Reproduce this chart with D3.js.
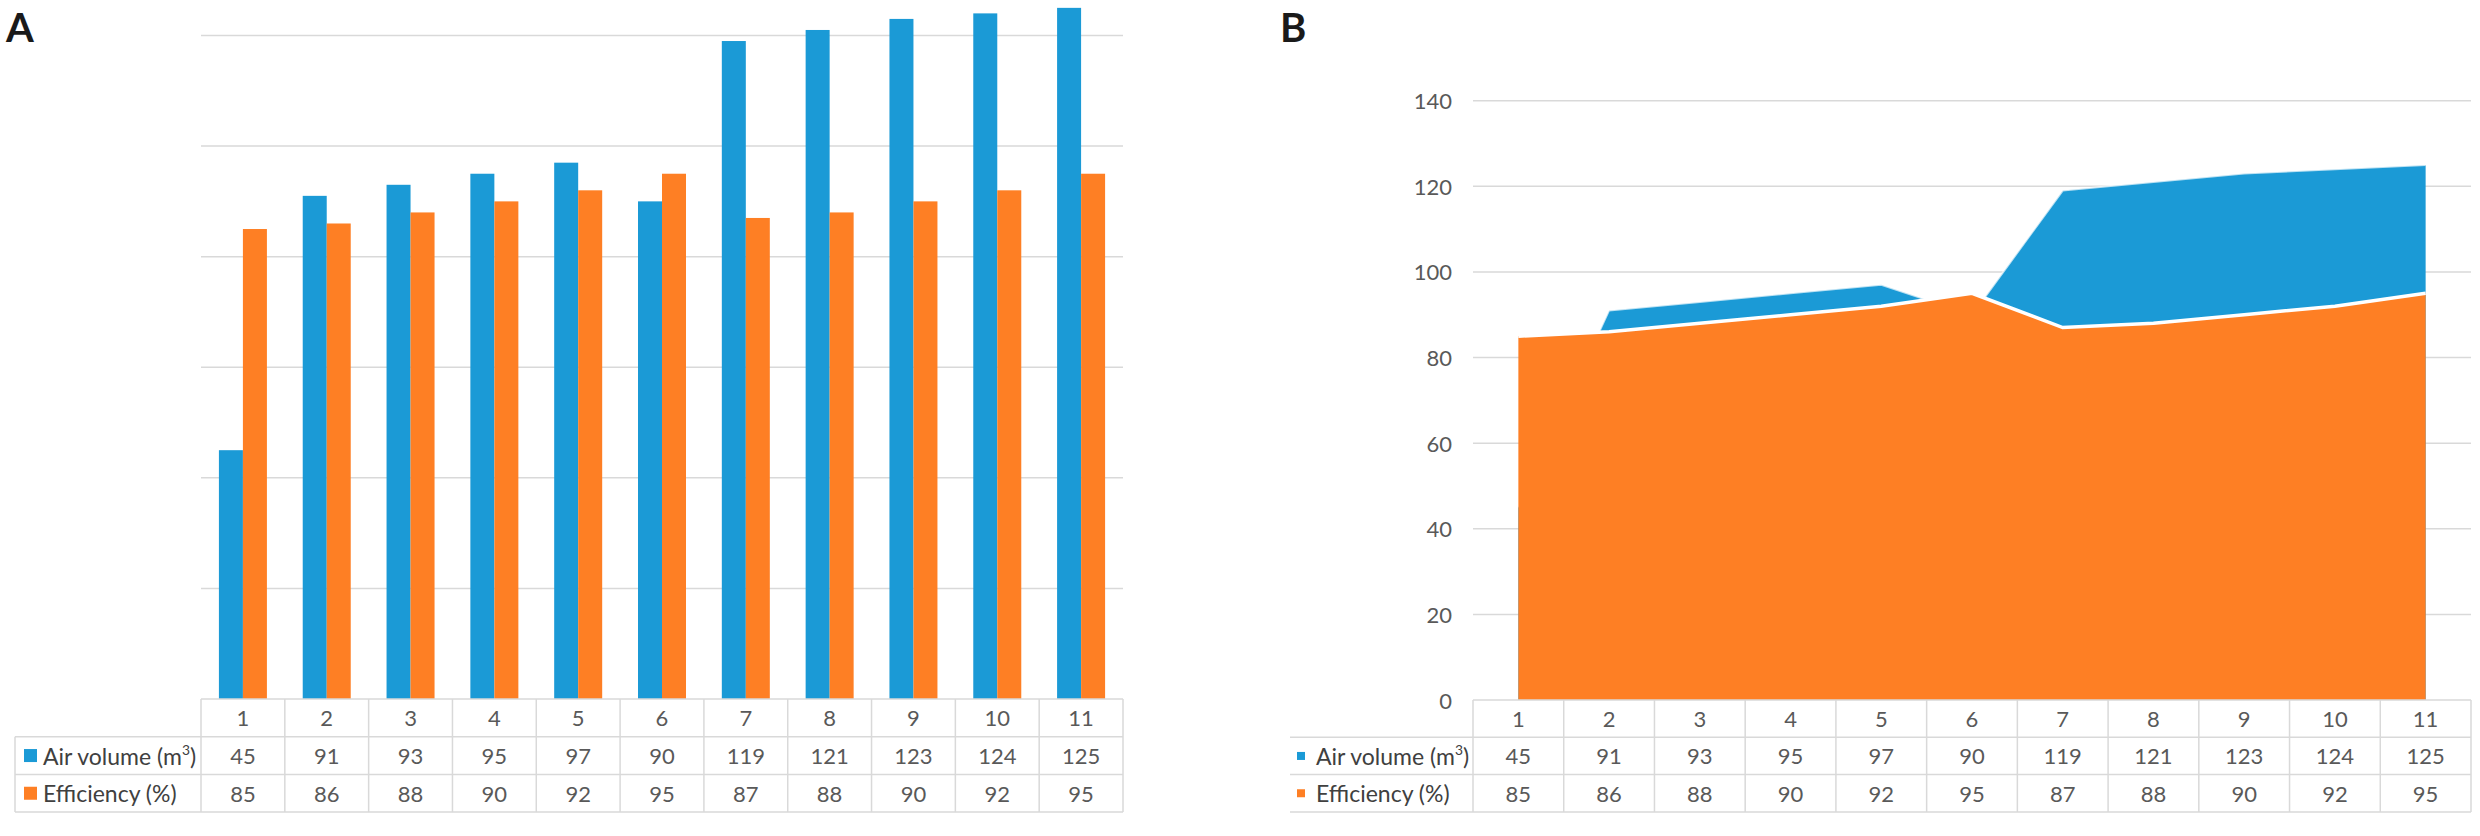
<!DOCTYPE html>
<html>
<head>
<meta charset="utf-8">
<script src="https://cdn.jsdelivr.net/npm/d3@7/dist/d3.min.js"></script>
<style>
  html, body { margin: 0; padding: 0; background: #fff; }
  svg { display: block; }
  text { font-family: Lato, "Open Sans", sans-serif; }
</style>
</head>
<body>
<svg id="chart" width="2480" height="836"></svg>
<script>
// ---- data ----
const categories = ["1", "2", "3", "4", "5", "6", "7", "8", "9", "10", "11"];
const airVolume  = [45, 91, 93, 95, 97, 90, 119, 121, 123, 124, 125];
const efficiency = [85, 86, 88, 90, 92, 95, 87, 88, 90, 92, 95];
const seriesNames = ["Air volume (m", "Efficiency (%)"];
const seriesKeys = ["air", "eff"];
const gridTicksA = [20, 40, 60, 80, 100, 120];
const yTicksB = [0, 20, 40, 60, 80, 100, 120, 140];

const colors = { air: "#1b9ad6", eff: "#fe7f24" };
const gridColor = "#d9d9d9";
const textColor = "#595959";

const rows = categories.map((c, i) => ({ cat: c, air: airVolume[i], eff: efficiency[i] }));

const svg = d3.select("#chart");

// ---- panel labels ----
svg.append("text").attr("x", 6).attr("y", 42).text("A")
  .attr("font-family", "Liberation Sans, Arial, sans-serif")
  .attr("font-weight", "bold").attr("font-size", 40).attr("fill", "#1a1a1a");
svg.append("text").attr("x", 1280).attr("y", 42).text("B")
  .attr("font-family", "Liberation Sans, Arial, sans-serif")
  .attr("font-weight", "bold").attr("font-size", 40).attr("fill", "#1a1a1a");

// ---- data table helper ----
function drawTable(g, x, opts) {
  const top = opts.top, rh = opts.rowH;
  const x0 = x.range()[0], x1 = x.range()[1];
  const bw = x.bandwidth();
  const lines = g.append("g").attr("stroke", gridColor).attr("stroke-width", 1.5);
  lines.append("line").attr("x1", x0).attr("x2", x1).attr("y1", top).attr("y2", top);
  [1, 2, 3].forEach(k => {
    lines.append("line").attr("x1", opts.legendLeft).attr("x2", x1)
      .attr("y1", top + k * rh).attr("y2", top + k * rh);
  });
  categories.forEach(c => {
    lines.append("line").attr("x1", x(c)).attr("x2", x(c)).attr("y1", top).attr("y2", top + 3 * rh);
  });
  lines.append("line").attr("x1", x1).attr("x2", x1).attr("y1", top).attr("y2", top + 3 * rh);
  if (opts.legendBorder) {
    lines.append("line").attr("x1", opts.legendLeft).attr("x2", opts.legendLeft)
      .attr("y1", top + rh).attr("y2", top + 3 * rh);
  }
  g.selectAll("text.cat").data(categories).join("text")
    .attr("x", c => x(c) + bw / 2).attr("y", top + rh / 2)
    .attr("text-anchor", "middle").attr("dominant-baseline", "central")
    .attr("font-size", opts.fontSize).attr("fill", textColor).text(c => c);
  seriesKeys.forEach((key, si) => {
    const ry = top + (si + 1.5) * rh;
    g.selectAll("text.v" + key).data(rows).join("text")
      .attr("x", d => x(d.cat) + bw / 2).attr("y", ry)
      .attr("text-anchor", "middle").attr("dominant-baseline", "central")
      .attr("font-size", opts.fontSize).attr("fill", textColor).text(d => d[key]);
    g.append("rect")
      .attr("x", opts.markerX).attr("y", ry - opts.markerSize / 2)
      .attr("width", opts.markerSize).attr("height", opts.markerSize)
      .attr("fill", colors[key]);
    const t = g.append("text").attr("x", opts.labelX).attr("y", ry)
      .attr("dominant-baseline", "central").attr("font-size", opts.labelSize)
      .attr("fill", "#404040");
    t.append("tspan").text(seriesNames[si]);
    if (key === "air") {
      t.append("tspan").attr("font-size", opts.labelSize * 0.6).attr("dy", -7).text("3");
      t.append("tspan").attr("dy", 7).text(")");
    }
  });
}

// ================= Panel A: clustered bars =================
const gA = svg.append("g");
const xA = d3.scaleBand().domain(categories).range([201, 1123]).padding(0);
const yA = d3.scaleLinear().domain([0, 120]).range([699, 35.5]);
const barW = 24;
const xA1 = d3.scaleBand().domain(seriesKeys)
  .range([xA.bandwidth() / 2 - barW, xA.bandwidth() / 2 + barW]).padding(0);

gA.append("g").selectAll("line").data(gridTicksA).join("line")
  .attr("x1", xA.range()[0]).attr("x2", xA.range()[1])
  .attr("y1", d => yA(d)).attr("y2", d => yA(d))
  .attr("stroke", gridColor).attr("stroke-width", 1.5);

const groups = gA.append("g").selectAll("g").data(rows).join("g")
  .attr("transform", d => `translate(${xA(d.cat)},0)`);
groups.selectAll("rect").data(d => seriesKeys.map(k => ({ key: k, value: d[k] }))).join("rect")
  .attr("x", d => xA1(d.key)).attr("width", xA1.bandwidth())
  .attr("y", d => yA(d.value)).attr("height", d => yA(0) - yA(d.value))
  .attr("fill", d => colors[d.key]);

drawTable(gA.append("g"), xA, {
  top: 699, rowH: 37.7, legendLeft: 15, legendBorder: true,
  markerX: 24, markerSize: 13, labelX: 43, fontSize: 22, labelSize: 23
});

// ================= Panel B: overlapping areas =================
const gB = svg.append("g");
const xB = d3.scaleBand().domain(categories).range([1473, 2471]).padding(0);
const yB = d3.scaleLinear().domain([0, 140]).range([700, 100.7]);
const cx = c => xB(c) + xB.bandwidth() / 2;

gB.append("g").selectAll("line").data(yTicksB.filter(v => v > 0)).join("line")
  .attr("x1", xB.range()[0]).attr("x2", xB.range()[1])
  .attr("y1", d => yB(d)).attr("y2", d => yB(d))
  .attr("stroke", gridColor).attr("stroke-width", 1.5);

gB.append("g").selectAll("text").data(yTicksB).join("text")
  .attr("x", 1452).attr("y", d => yB(d))
  .attr("text-anchor", "end").attr("dominant-baseline", "central")
  .attr("font-size", 22).attr("fill", textColor).text(d => d);

const areaAir = d3.area().x(d => cx(d.cat)).y0(yB(0)).y1(d => yB(d.air));
const areaEff = d3.area().x(d => cx(d.cat)).y0(yB(0)).y1(d => yB(d.eff));
const lineAir = d3.line().x(d => cx(d.cat)).y(d => yB(d.air));
const lineEff = d3.line().x(d => cx(d.cat)).y(d => yB(d.eff));

gB.append("path").datum(rows).attr("d", areaAir).attr("fill", colors.air);
gB.append("path").datum(rows).attr("d", lineAir).attr("fill", "none")
  .attr("stroke", "#ffffff").attr("stroke-width", 2).attr("stroke-opacity", 0.7);
gB.append("path").datum(rows).attr("d", areaEff).attr("fill", colors.eff);
gB.append("path").datum(rows).attr("d", lineEff).attr("fill", "none")
  .attr("stroke", "#ffffff").attr("stroke-width", 3.5);

drawTable(gB.append("g"), xB, {
  top: 700, rowH: 37.3, legendLeft: 1290, legendBorder: false,
  markerX: 1297, markerSize: 8, labelX: 1316, fontSize: 22, labelSize: 23
});
</script>
</body>
</html>
